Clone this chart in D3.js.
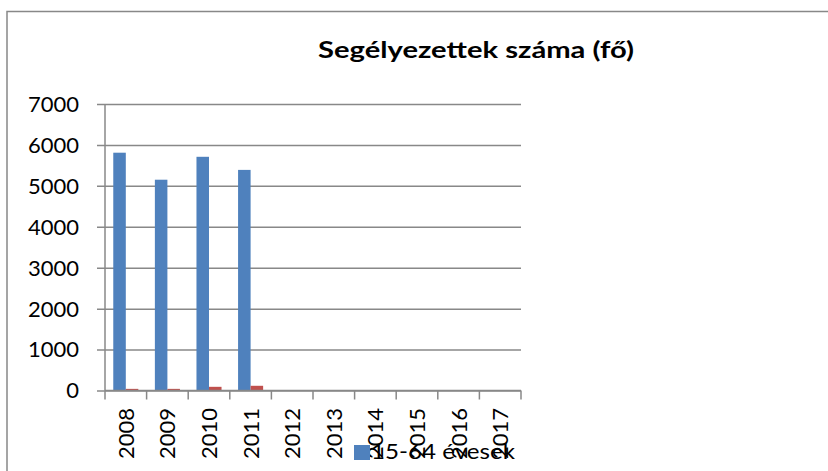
<!DOCTYPE html>
<html>
<head>
<meta charset="utf-8">
<script src="https://cdn.jsdelivr.net/npm/d3@7"></script>
<style>
  body { margin: 0; background: #fff; }
  svg text { font-family: Lato, "Noto Sans", sans-serif; fill: #000; }
</style>
</head>
<body>
<svg id="chart" width="828" height="471"></svg>
<script>
// data
const years = ["2008", "2009", "2010", "2011", "2012", "2013", "2014", "2015", "2016", "2017"];
const seriesNames = ["15-64 évesek", "egyéb"];
const workingAge = [5810, 5150, 5710, 5390, 0, 0, 0, 0, 0, 0];
const other = [40, 40, 90, 115, 0, 0, 0, 0, 0, 0];
const yTicks = [0, 1000, 2000, 3000, 4000, 5000, 6000, 7000];

const colors = ["#4f81bd", "#c0504d"];
const gridColor = "#888888";

let svg = d3.select("#chart");

// outer chart frame (runs off the right and bottom edges)
svg.append("rect")
    .attr("x", 7).attr("y", 11.5)
    .attr("width", 900).attr("height", 600)
    .attr("fill", "none")
    .attr("stroke", gridColor)
    .attr("stroke-width", 1.5);

let x = d3.scaleBand().domain(years).range([105, 521]);
let x1 = d3.scaleBand().domain(seriesNames).range([0, x.bandwidth()]).paddingOuter(0.66);
let y = d3.scaleLinear().domain([0, 7000]).range([390.5, 104]);

// horizontal gridlines with the little tick stubs on the left
svg.append("g")
    .attr("transform", "translate(105,0)")
    .call(d3.axisLeft(y).tickValues(yTicks).tickSize(-(521 - 105)).tickSizeOuter(0).tickFormat(""))
    .call(g => g.select(".domain").remove())
    .call(g => g.selectAll(".tick line")
        .attr("x1", -8)
        .attr("stroke", gridColor)
        .attr("stroke-width", 1.5));

// y axis line
svg.append("line")
    .attr("x1", 105).attr("x2", 105)
    .attr("y1", y(7000)).attr("y2", y(0))
    .attr("stroke", gridColor).attr("stroke-width", 1.5);

// y labels
svg.append("g").selectAll("text")
    .data(yTicks)
    .join("text")
    .attr("x", 79)
    .attr("y", d => y(d))
    .attr("dy", "0.36em")
    .attr("text-anchor", "end")
    .attr("font-size", 22)
    .text(d => d);

// bars
let rows = years.map((yr, i) => ({ year: yr, values: [workingAge[i], other[i]] }));
let groups = svg.append("g").selectAll("g")
    .data(rows)
    .join("g")
    .attr("transform", d => "translate(" + x(d.year) + ",0)");

groups.selectAll("rect")
    .data(d => d.values.map((v, k) => ({ key: seriesNames[k], value: v, k: k })))
    .join("rect")
    .attr("x", d => x1(d.key))
    .attr("width", x1.bandwidth())
    .attr("y", d => y(d.value))
    .attr("height", d => y(0) - y(d.value))
    .attr("fill", d => colors[d.k]);

// x axis line + category ticks
let edges = years.map(d => x(d)).concat([x.range()[1]]);
svg.append("line")
    .attr("x1", 105).attr("x2", 521)
    .attr("y1", y(0)).attr("y2", y(0))
    .attr("stroke", gridColor).attr("stroke-width", 1.5);
svg.append("g").selectAll("line")
    .data(edges)
    .join("line")
    .attr("x1", d => d).attr("x2", d => d)
    .attr("y1", y(0)).attr("y2", y(0) + 9)
    .attr("stroke", gridColor).attr("stroke-width", 1.5);

// rotated year labels
svg.append("g").selectAll("text")
    .data(years)
    .join("text")
    .attr("transform", d => "translate(" + (x(d) + x.bandwidth() / 2) + ",408) rotate(-90)")
    .attr("dy", "0.36em")
    .attr("text-anchor", "end")
    .attr("font-size", 22)
    .text(d => d);

// title
svg.append("text")
    .attr("x", 476).attr("y", 58)
    .attr("text-anchor", "middle")
    .attr("font-size", 22)
    .attr("font-weight", "bold")
    .attr("textLength", 316)
    .attr("lengthAdjust", "spacingAndGlyphs")
    .text("Segélyezettek száma (fő)");

// legend (only first series is shown in the original)
svg.append("rect")
    .attr("x", 354).attr("y", 445)
    .attr("width", 16).attr("height", 15)
    .attr("fill", colors[0]);
svg.append("text")
    .attr("x", 371).attr("y", 459)
    .attr("font-size", 22)
    .attr("textLength", 144)
    .attr("lengthAdjust", "spacingAndGlyphs")
    .text(seriesNames[0]);
</script>
</body>
</html>
